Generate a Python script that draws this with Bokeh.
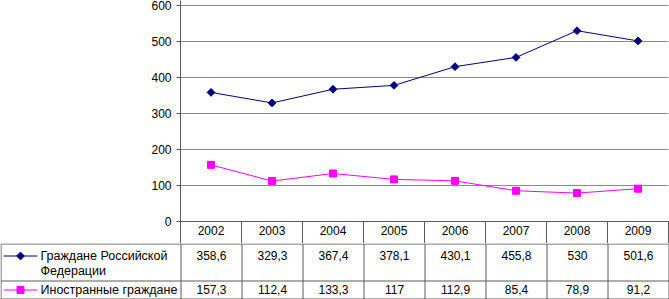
import numpy as np
from bokeh.plotting import figure
from bokeh.layouts import column
from bokeh.models import Range1d, FixedTicker
from bokeh.core.properties import value
from bokeh.embed import file_html
from bokeh.resources import INLINE

years = ["2002", "2003", "2004", "2005", "2006", "2007", "2008", "2009"]
russians = [358.6, 329.3, 367.4, 378.1, 430.1, 455.8, 530, 501.6]
foreigners = [157.3, 112.4, 133.3, 117, 112.9, 85.4, 78.9, 91.2]
series_names = ["Граждане Российской\nФедерации", "Иностранные граждане"]
y_ticks = [0, 100, 200, 300, 400, 500, 600]

FONT = "Liberation Sans"
FS = "12px"
NAVY = "#000080"
MAGENTA = "#FF00FF"
GRID = "#8a8a8a"
TABLE = "#5a5a5a"

n = len(years)
xs = list(range(n))
bounds = [i - 0.5 for i in range(n + 1)]

# ---------------- chart (with the year row as its x axis) ----------------
pxu = 0.36  # pixels per unit on the value axis
fa = figure(width=669, height=243, output_backend="svg", toolbar_location=None,
            x_range=Range1d(-0.5, n - 0.5),
            y_range=Range1d(0, 600 + 5 / pxu),
            min_border_left=180, min_border_right=1, min_border_top=0,
            min_border_bottom=22, frame_align=False)
fa.outline_line_color = None
fa.xgrid.visible = False
fa.ygrid.ticker = FixedTicker(ticks=y_ticks)
fa.ygrid.grid_line_color = GRID
fa.ygrid.grid_line_width = 1

ax = fa.yaxis[0]
ax.ticker = FixedTicker(ticks=y_ticks)
ax.axis_line_color = TABLE
ax.major_tick_line_color = TABLE
ax.major_tick_out = 4
ax.major_tick_in = 0
ax.minor_tick_line_color = None
ax.major_label_standoff = 5
ax.major_label_text_font = FONT
ax.major_label_text_font_size = FS
ax.major_label_text_color = "black"

bx = fa.xaxis[0]
bx.ticker = FixedTicker(ticks=xs, minor_ticks=bounds)
bx.major_label_overrides = {i: y for i, y in enumerate(years)}
bx.axis_line_color = TABLE
bx.major_tick_line_color = None
bx.major_tick_out = 0
bx.major_tick_in = 0
bx.minor_tick_line_color = TABLE
bx.minor_tick_out = 22
bx.minor_tick_in = 0
bx.major_label_standoff = -18
bx.major_label_text_font = FONT
bx.major_label_text_font_size = FS
bx.major_label_text_color = "black"

fa.line(xs, russians, line_color=NAVY, line_width=1)
fa.scatter(xs, russians, marker="square", angle=np.pi / 4, size=5.5,
           fill_color=NAVY, line_color=NAVY)
fa.line(xs, foreigners, line_color=MAGENTA, line_width=1)
fa.scatter(xs, foreigners, marker="square", size=7,
           fill_color=MAGENTA, line_color=MAGENTA)

# ---------------- data table rows ----------------
colw = 61.0
x0 = -0.5 - 180.5 / colw
fb = figure(width=669, height=56, output_backend="svg", toolbar_location=None,
            x_range=Range1d(x0, x0 + 669 / colw), y_range=Range1d(55.5, -0.5),
            min_border=0, x_axis_location=None, y_axis_location=None,
            frame_align=False)
fb.outline_line_color = None
fb.xgrid.visible = False
fb.ygrid.visible = False


def px(v):
    return x0 + v / colw


left_edge = px(0.5)
right_edge = n - 0.5
hl = [0, 37, 55]
fb.segment(x0=[left_edge] * 3, y0=hl, x1=[right_edge] * 3, y1=hl,
           line_color=TABLE, line_width=1)
fb.segment(x0=bounds + [left_edge], y0=[0] * (n + 2), x1=bounds + [left_edge],
           y1=[55] * (n + 2), line_color=TABLE, line_width=1)

txt = dict(text_font=value(FONT), text_font_size=FS, text_color="black",
           text_align="center", text_baseline="middle")


def fmt(v):
    return f"{v:g}".replace(".", ",")


fb.text(xs, [11.5] * n, text=[fmt(v) for v in russians], **txt)
fb.text(xs, [45.5] * n, text=[fmt(v) for v in foreigners], **txt)

# legend keys
fb.line([px(3), px(37)], [12, 12], line_color=NAVY, line_width=1)
fb.scatter([px(20)], [12], marker="square", angle=np.pi / 4, size=5.5,
           fill_color=NAVY, line_color=NAVY)
fb.line([px(3), px(37)], [46, 46], line_color=MAGENTA, line_width=1)
fb.scatter([px(20)], [46], marker="square", size=7,
           fill_color=MAGENTA, line_color=MAGENTA)
ltxt = dict(text_font=value(FONT), text_font_size="12.5px", text_color="black",
            text_align="left", text_baseline="middle")
first, second = series_names[0].split("\n")
fb.text([px(40)], [11.5], text=[first], **ltxt)
fb.text([px(40)], [27], text=[second], **ltxt)
fb.text([px(40)], [45.5], text=[series_names[1]], **ltxt)

layout = column(fa, fb, spacing=0)
open("out.html", "w").write(file_html(layout, INLINE))
